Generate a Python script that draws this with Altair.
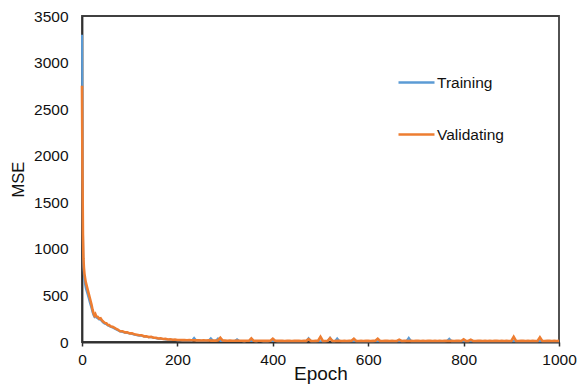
import altair as alt
import pandas as pd

# Early epochs (fast decay), sampled densely
head_epochs = [0, 1, 2, 3, 4, 5, 6, 7, 8, 10, 12, 14, 16, 18, 20, 22, 24, 26, 28, 30,
               33, 36, 39, 42, 45, 48, 51, 54, 57, 60, 65, 70, 75, 80, 85, 90, 95, 100,
               105, 110, 115, 120, 125, 130, 135, 140, 145, 150, 155, 160, 165, 170,
               175, 180, 185, 190, 195, 200]
head_train = [3300, 1900, 1200, 820, 720, 660, 630, 600, 575, 540, 505, 470, 430, 395, 360,
              320, 290, 270, 285, 262, 252, 240, 238, 220, 205, 195, 190, 178, 170, 162,
              152, 138, 125, 112, 108, 100, 96, 90, 86, 78, 72, 68, 66, 60, 55, 52, 50,
              46, 40, 36, 34, 31, 28, 26, 25, 23, 22, 20]
head_valid = [2750, 1800, 1150, 900, 800, 740, 700, 670, 640, 600, 560, 520, 480, 440, 400,
              350, 310, 285, 300, 275, 270, 250, 255, 232, 218, 205, 202, 183, 182, 168,
              162, 146, 134, 116, 116, 103, 104, 93, 94, 82, 78, 72, 72, 61, 62, 53, 56,
              46, 45, 37, 39, 32, 33, 27, 29, 24, 26, 22]

# Later epochs, every 5 epochs from 205 to 1000
tail_epochs = list(range(205, 1001, 5))
tail_train = [
    18, 17, 18, 16, 17, 15, 45, 14, 15, 13,
    14, 13, 15, 40, 13, 12, 38, 12, 13, 12,
    11, 12, 10, 11, 30, 10, 11, 9, 11, 10,
    10, 11, 9, 11, 10, 9, 10, 9, 11, 10,
    10, 9, 10, 9, 8, 10, 9, 8, 9, 10,
    9, 8, 10, 9, 42, 9, 8, 9, 10, 9,
    9, 8, 10, 45, 9, 8, 40, 10, 8, 9,
    8, 9, 10, 9, 9, 8, 9, 8, 10, 9,
    8, 9, 10, 9, 9, 8, 9, 10, 8, 9,
    8, 9, 9, 8, 9, 10, 45, 9, 8, 9,
    10, 8, 9, 8, 9, 10, 8, 9, 8, 9,
    8, 9, 10, 35, 9, 8, 9, 10, 8, 9,
    9, 8, 9, 9, 8, 9, 10, 8, 9, 8,
    9, 8, 9, 10, 8, 9, 8, 9, 8, 9,
    10, 9, 8, 9, 10, 8, 9, 8, 9, 8,
    9, 10, 9, 8, 9, 10, 8, 9, 8, 9,
]
tail_valid = [
    22, 20, 21, 19, 20, 18, 19, 17, 18, 16,
    17, 16, 18, 15, 16, 15, 17, 45, 16, 15,
    14, 15, 13, 14, 15, 13, 14, 12, 14, 13,
    40, 13, 12, 14, 13, 12, 13, 12, 14, 35,
    13, 12, 13, 12, 11, 13, 12, 11, 12, 13,
    12, 11, 13, 12, 30, 12, 11, 12, 13, 55,
    12, 11, 13, 40, 12, 11, 12, 13, 11, 12,
    11, 12, 13, 35, 12, 11, 12, 11, 13, 12,
    11, 12, 13, 35, 12, 11, 12, 13, 11, 12,
    11, 12, 25, 11, 12, 13, 11, 12, 11, 12,
    13, 11, 12, 11, 12, 13, 11, 12, 11, 12,
    11, 12, 13, 11, 12, 11, 12, 13, 11, 28,
    12, 11, 25, 12, 11, 12, 13, 11, 12, 11,
    12, 11, 12, 13, 11, 12, 11, 12, 11, 12,
    55, 12, 11, 12, 13, 11, 12, 11, 12, 11,
    12, 50, 12, 11, 12, 13, 11, 12, 11, 12,
]

series_names = ["Training", "Validating"]
series_colors = ["#5B9BD5", "#ED7D31"]
x_ticks = [0, 200, 400, 600, 800, 1000]
y_ticks = [0, 500, 1000, 1500, 2000, 2500, 3000, 3500]

epochs = head_epochs + tail_epochs
train = pd.DataFrame({"Epoch": epochs, "MSE": head_train + tail_train, "Series": "Training"})
valid = pd.DataFrame({"Epoch": epochs, "MSE": head_valid + tail_valid, "Series": "Validating"})

FONT = "Liberation Sans"

color = alt.Color(
    "Series:N",
    scale=alt.Scale(domain=series_names, range=series_colors),
    legend=alt.Legend(
        title=None,
        orient="none",
        legendX=315,
        legendY=47,
        symbolType="stroke",
        symbolSize=1296,
        symbolStrokeWidth=2.5,
        labelFont=FONT,
        labelFontSize=15.5,
        labelColor="#111",
        labelOffset=1,
        rowPadding=24,
    ),
)

x = alt.X(
    "Epoch:Q",
    scale=alt.Scale(domain=[0, 1000], nice=False),
    axis=alt.Axis(values=x_ticks, title="Epoch", format="d", tickSize=4, labelPadding=6,
                  labelFlush=False, titlePadding=-3, titleFontSize=19),
)
y = alt.Y(
    "MSE:Q",
    scale=alt.Scale(domain=[0, 3500], nice=False),
    axis=alt.Axis(values=y_ticks, title="MSE", format="d", tickSize=0, labelPadding=14,
                  labelFlush=False, titlePadding=7, titleFontSize=16.5),
)

line_train = alt.Chart(train).mark_line(strokeWidth=2, interpolate="linear").encode(
    x=x, y=y, color=color
)
line_valid = alt.Chart(valid).mark_line(strokeWidth=2.6, interpolate="linear").encode(
    x=x, y=y, color=color
)

chart = (
    alt.layer(line_train, line_valid)
    .properties(
        width=477,
        height=326,
        autosize=alt.AutoSizeParams(type="none"),
        padding={"left": 82, "top": 16, "right": 22, "bottom": 42},
        background="white",
    )
    .configure_view(stroke="#404040", strokeWidth=1.8)
    .configure_axis(
        grid=False,
        domainColor="#303030",
        domainWidth=1.8,
        tickColor="#303030",
        tickWidth=1.5,
        labelFont=FONT,
        labelFontSize=15.5,
        labelColor="#111",
        titleFont=FONT,
        titleFontWeight="normal",
        titleColor="#111",
    )
)

chart.save("out.html", embed_options={"renderer": "svg", "actions": False})
